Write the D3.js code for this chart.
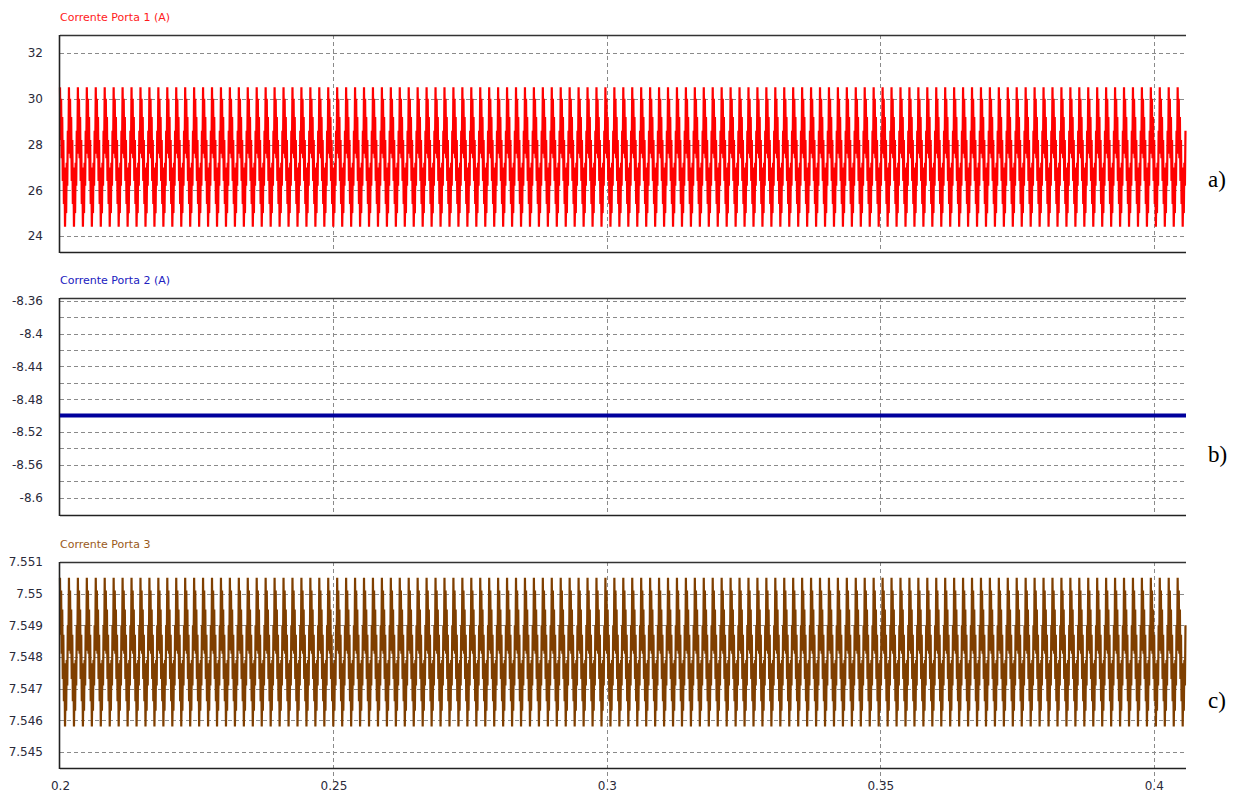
<!DOCTYPE html>
<html>
<head>
<meta charset="utf-8">
<script src="https://cdn.jsdelivr.net/npm/d3@7"></script>
<style>
    body { margin: 0; background: #ffffff; }
    .tick text { font-family: "DejaVu Sans", sans-serif; font-size: 12px; fill: #2a2a3a; }
    .panel--title { font-family: "DejaVu Sans", sans-serif; font-size: 11px; }
    .panel--tag { font-family: "Liberation Serif", serif; font-size: 23px; fill: #000; }
    .grid line { stroke: #8a8a8a; stroke-dasharray: 4,3; stroke-width: 1; }
</style>
</head>
<body>
<div id="chart"></div>
<script>
// time axis
const xDomain = [0.2, 0.4059];
const xTicks = [0.2, 0.25, 0.3, 0.35, 0.4];
const period = 0.001635;   // one ripple cycle, read from peak spacing

// Corrente Porta 1 (A)
const p1Ticks = [24, 26, 28, 30, 32];
const p1Grid = [24, 26, 28, 30, 32];
const p1Domain = [23.30, 32.79];
const p1Cycle = [30.5, 28.2, 30.0, 27.4, 29.2, 26.4, 28.2, 25.4, 27.0, 24.4, 26.0, 25.0, 27.2, 26.2, 28.6, 27.6];

// Corrente Porta 2 (A)
const p2Ticks = [-8.6, -8.56, -8.52, -8.48, -8.44, -8.4, -8.36];
const p2Grid = [-8.6, -8.58, -8.56, -8.54, -8.52, -8.50, -8.48, -8.46, -8.44, -8.42, -8.4, -8.38, -8.36];
const p2Domain = [-8.6212, -8.3567];
const p2Level = -8.50;

// Corrente Porta 3
const p3Ticks = [7.545, 7.546, 7.547, 7.548, 7.549, 7.55, 7.551];
const p3Grid = [7.545, 7.546, 7.547, 7.548, 7.549, 7.55];
const p3Domain = [7.54449, 7.5510];
const p3Cycle = [7.5505, 7.5487, 7.5501, 7.5481, 7.5495, 7.5473, 7.5487, 7.5466, 7.5478, 7.5458, 7.5471, 7.5463, 7.5479, 7.5471, 7.5490, 7.5482];

const width = 1237;
const height = 794;
const left = 60;
const right = 1186;

const svg = d3.select("#chart")
    .append("svg")
    .attr("width", width)
    .attr("height", height);

const xScale = d3.scaleLinear()
    .domain(xDomain)
    .range([left, right]);

// repeat the read cycle along the time axis
function tile(cycle) {
    let out = [];
    const step = period / cycle.length;
    let k = 0;
    while (xDomain[0] + k * step <= xDomain[1]) {
        out.push({ t: xDomain[0] + k * step, v: cycle[k % cycle.length] });
        k++;
    }
    return out;
}

function panel(p) {
    const yScale = d3.scaleLinear()
        .domain(p.domain)
        .range([p.bottom, p.top]);

    const g = svg.append("g");

    g.append("text")
        .attr("class", "panel--title")
        .attr("x", left)
        .attr("y", p.top - 14)
        .attr("fill", p.titleColor)
        .text(p.title);

    // horizontal grid
    g.append("g")
        .attr("class", "grid")
        .selectAll("line")
        .data(p.grid)
        .join("line")
        .attr("x1", left)
        .attr("x2", right)
        .attr("y1", d => Math.round(yScale(d)) + 0.5)
        .attr("y2", d => Math.round(yScale(d)) + 0.5);

    // vertical grid
    g.append("g")
        .attr("class", "grid")
        .selectAll("line")
        .data(xTicks.slice(1))
        .join("line")
        .attr("x1", d => Math.round(xScale(d)) + 0.5)
        .attr("x2", d => Math.round(xScale(d)) + 0.5)
        .attr("y1", p.top)
        .attr("y2", p.extendBottom ? p.bottom + 14 : p.bottom);

    // series
    if (p.series) {
        g.append("path")
            .datum(p.series)
            .attr("fill", "none")
            .attr("stroke", p.color)
            .attr("stroke-width", p.strokeWidth)
            .attr("d", d3.line().x(d => xScale(d.t)).y(d => yScale(d.v)));
    }

    // frame
    g.append("line")
        .attr("x1", left).attr("x2", right)
        .attr("y1", p.top + 0.5).attr("y2", p.top + 0.5)
        .attr("stroke", "#333").attr("stroke-width", 1.3);
    g.append("line")
        .attr("x1", left).attr("x2", right)
        .attr("y1", p.bottom + 0.5).attr("y2", p.bottom + 0.5)
        .attr("stroke", "#222").attr("stroke-width", 1.6);
    g.append("line")
        .attr("x1", left - 0.5).attr("x2", left - 0.5)
        .attr("y1", p.top).attr("y2", p.bottom + 1)
        .attr("stroke", "#222").attr("stroke-width", 1.6);

    const yAxis = g.append("g")
        .attr("transform", `translate(${left},0)`)
        .call(d3.axisLeft(yScale).tickValues(p.ticks).tickSize(0).tickPadding(17).tickFormat(d => String(d)));
    yAxis.select(".domain").remove();

    g.append("text")
        .attr("class", "panel--tag")
        .attr("x", 1208)
        .attr("y", p.tagY)
        .text(p.tag);

    return yScale;
}

panel({
    title: "Corrente Porta 1 (A)", titleColor: "#ff1a1a",
    top: 35, bottom: 252, domain: p1Domain, ticks: p1Ticks, grid: p1Grid,
    series: tile(p1Cycle), color: "#ff0000", strokeWidth: 2.2,
    tag: "a)", tagY: 187
});

const y2 = panel({
    title: "Corrente Porta 2 (A)", titleColor: "#2020c0",
    top: 298, bottom: 515, domain: p2Domain, ticks: p2Ticks, grid: p2Grid,
    tag: "b)", tagY: 462
});

svg.append("line")
    .attr("x1", left).attr("x2", right)
    .attr("y1", y2(p2Level)).attr("y2", y2(p2Level))
    .attr("stroke", "#00009c")
    .attr("stroke-width", 4);

panel({
    title: "Corrente Porta 3", titleColor: "#9a5a1a",
    top: 562, bottom: 768, domain: p3Domain, ticks: p3Ticks, grid: p3Grid,
    series: tile(p3Cycle), color: "#7f3f00", strokeWidth: 2.2,
    tag: "c)", tagY: 708, extendBottom: true
});

// time axis labels
svg.append("g")
    .attr("transform", `translate(0,768)`)
    .call(d3.axisBottom(xScale).tickValues(xTicks).tickSize(0).tickPadding(13).tickFormat(d => String(d)))
    .select(".domain").remove();
</script>
</body>
</html>
